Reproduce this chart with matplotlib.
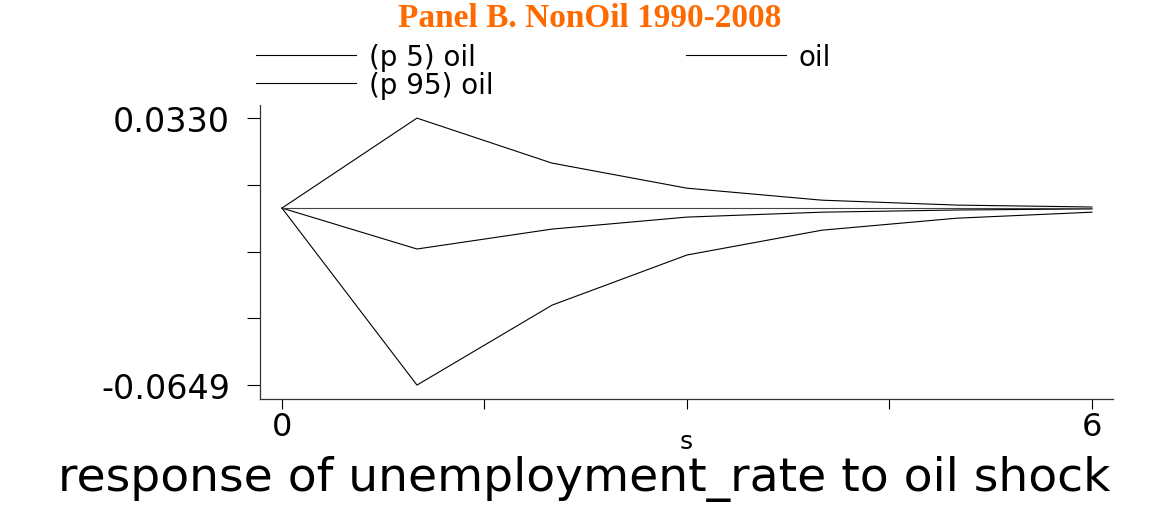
import matplotlib
matplotlib.use("Agg")
import matplotlib.pyplot as plt

# impulse response of unemployment_rate to an oil shock, steps 0..6
horizon = [0, 1, 2, 3, 4, 5, 6]
irf_oil = [0.0, -0.0150, -0.0077, -0.0033, -0.0015, -0.0007, -0.0003]
irf_p5 = [0.0, -0.0649, -0.0356, -0.0172, -0.0081, -0.0037, -0.0015]
irf_p95 = [0.0, 0.0330, 0.0165, 0.0073, 0.0029, 0.0011, 0.0004]
zero_ref = 0.0

y_ticks = [0.0330, 0.00853, -0.01595, -0.04043, -0.0649]
y_ticklabels = ["0.0330", "", "", "", "-0.0649"]
x_ticks = [0, 1.5, 3, 4.5, 6]
x_ticklabels = ["0", "", "", "", "6"]

fig = plt.figure(figsize=(11.7, 5.06), dpi=100)
ax = fig.add_axes([0.2222, 0.2095, 0.7291, 0.581])

l_p5, = ax.plot(horizon, irf_p5, color="black", lw=0.8)
l_p95, = ax.plot(horizon, irf_p95, color="black", lw=0.8)
l_oil, = ax.plot(horizon, irf_oil, color="black", lw=0.8)
ax.hlines(zero_ref, horizon[0], horizon[-1], color="#444444", lw=0.8)

ax.set_xlim(-0.163, 6.156)
ax.set_ylim(-0.0700, 0.0378)
ax.set_yticks(y_ticks)
ax.set_yticklabels(y_ticklabels)
ax.set_xticks(x_ticks)
ax.set_xticklabels(x_ticklabels)
ax.tick_params(axis="y", direction="out", length=9.5, width=0.8, pad=12, labelsize=24)
ax.tick_params(axis="x", direction="out", length=7, width=0.8, pad=2, labelsize=23)
for side in ["top", "right"]:
    ax.spines[side].set_visible(False)
for side in ["left", "bottom"]:
    ax.spines[side].set_linewidth(0.9)
    ax.spines[side].set_color("#333333")

ax.set_xlabel("s", fontsize=18, labelpad=-10)

fig.text(0.5043, 0.9625, "Panel B. NonOil 1990-2008", ha="center", va="center",
         family="Liberation Serif", weight="bold", color="#ff6a00", fontsize=24)

fig.legend([l_p5, l_p95, l_oil], ["(p 5) oil", "(p 95) oil", "oil"], ncol=2,
           loc="upper left", bbox_to_anchor=(0.219, 0.913), frameon=False,
           fontsize=20, handlelength=3.6, handletextpad=0.47, columnspacing=6.9,
           labelspacing=0.0, borderaxespad=0, borderpad=0)

fig.text(0.4991, 0.030, "response of unemployment_rate to oil shock", ha="center",
         va="baseline", fontsize=34)

fig.savefig("out.png", dpi=100, facecolor="white")
